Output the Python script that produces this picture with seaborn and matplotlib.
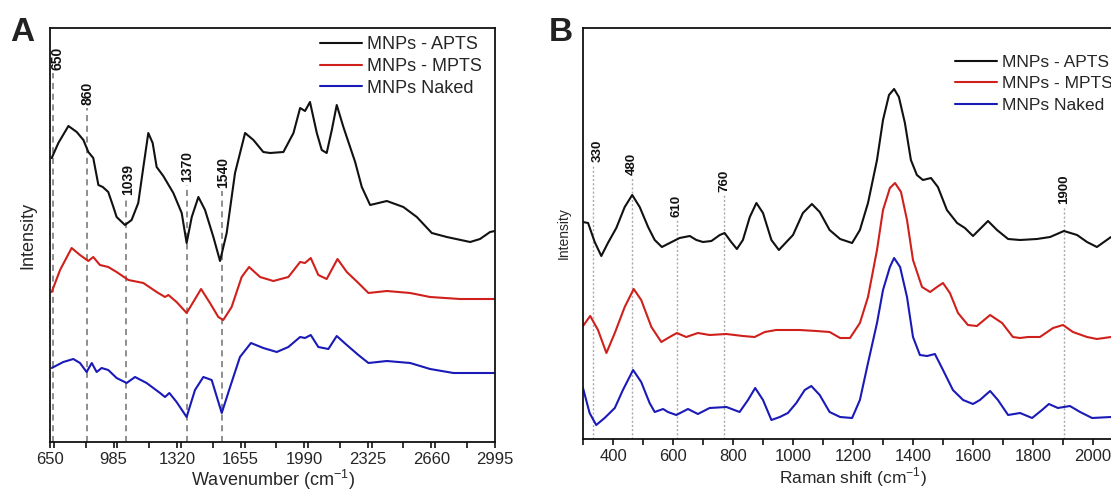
import numpy as np
import pandas as pd
import matplotlib
matplotlib.use("Agg")
import matplotlib.pyplot as plt
import seaborn as sns
from matplotlib.ticker import MultipleLocator, FixedLocator
from matplotlib.lines import Line2D

# ---------------- data ----------------
# Panel A: FTIR (wavenumber, intensity a.u.)
ftir_apts_x = [659, 694, 747, 791, 826, 852, 878, 905, 928, 957, 984, 1001, 1045, 1080, 1115,
               1142, 1168, 1191, 1212, 1247, 1300, 1344, 1370, 1397, 1432, 1467, 1511, 1546,
               1581, 1625, 1678, 1722, 1774, 1810, 1880, 1933, 1968, 1994, 2020, 2056, 2082,
               2108, 2135, 2161, 2196, 2258, 2293, 2337, 2425, 2512, 2583, 2662, 2741, 2864,
               2916, 2969, 2995]
ftir_apts_y = [284, 299, 316, 310, 302, 290, 284, 257, 255, 250, 235, 225, 217, 222, 239,
               275, 309, 299, 275, 266, 249, 229, 199, 225, 245, 232, 205, 181,
               209, 269, 309, 302, 290, 289, 290, 309, 334, 331, 340, 309, 292,
               289, 312, 337, 315, 280, 255, 237, 241, 235, 225, 209, 205, 200,
               203, 210, 211]

ftir_mpts_x = [659, 703, 764, 808, 852, 878, 913, 957, 1001, 1063, 1142, 1212, 1256, 1274,
               1317, 1370, 1405, 1446, 1493, 1537, 1563, 1607, 1660, 1699, 1757, 1827, 1906,
               1968, 1994, 2024, 2064, 2108, 2165, 2214, 2275, 2328, 2425, 2548, 2653, 2811, 2995]
ftir_mpts_y = [150, 172, 194, 187, 181, 185, 177, 175, 170, 162, 159, 150, 145, 147,
               140, 129, 140, 153, 139, 125, 122, 135, 165, 175, 165, 161, 165,
               180, 179, 184, 167, 163, 183, 170, 159, 149, 151, 149, 145, 143, 143]

ftir_naked_x = [659, 720, 773, 808, 843, 870, 896, 922, 957, 1001, 1054, 1098, 1159, 1230,
                1256, 1279, 1317, 1370, 1414, 1458, 1502, 1555, 1599, 1651, 1709, 1774, 1845,
                1906, 1968, 1994, 2024, 2064, 2117, 2161, 2214, 2275, 2328, 2425, 2548, 2653,
                2776, 2995]
ftir_naked_y = [74, 80, 83, 79, 70, 79, 70, 74, 72, 64, 59, 65, 59, 49,
                45, 49, 40, 25, 52, 65, 62, 29, 55, 85, 99, 94, 90,
                95, 105, 104, 107, 95, 93, 106, 97, 87, 79, 81, 79, 73,
                69, 69]

ftir_marks = [665, 845, 1050, 1372, 1556]
ftir_mark_labels = ["650", "860", "1039", "1370", "1540"]
ftir_label_x = [692, 845, 1060, 1375, 1560]
ftir_mark_tops = [369, 334, 244, 257, 251]

# Panel B: Raman (shift, intensity a.u.)
raman_apts_x = [300, 317, 339, 361, 383, 411, 439, 464, 489, 517, 539, 563, 589, 622, 656,
                678, 700, 728, 756, 772, 794, 813, 833, 856, 878, 900, 928, 953, 978, 1000,
                1033, 1063, 1089, 1122, 1157, 1197, 1223, 1250, 1280, 1300, 1320, 1337, 1353,
                1373, 1393, 1413, 1433, 1460, 1483, 1513, 1547, 1573, 1600, 1630, 1650, 1680,
                1717, 1757, 1813, 1857, 1903, 1947, 1980, 2013, 2060]
raman_apts_y = [217, 216, 197, 183, 196, 211, 232, 244, 232, 212, 199, 192, 196, 201, 203,
                199, 197, 198, 204, 206, 197, 190, 199, 222, 236, 226, 199, 189, 197, 204,
                226, 235, 227, 209, 200, 196, 209, 236, 279, 319, 344, 350, 342,
                316, 279, 264, 259, 261, 252, 229, 216, 211, 203, 212, 218, 209,
                200, 199, 200, 202, 208, 204, 197, 192, 202]

raman_mpts_x = [300, 324, 350, 378, 406, 439, 469, 494, 528, 561, 589, 613, 644, 683, 722,
                778, 833, 872, 906, 944, 1022, 1078, 1122, 1157, 1190, 1223, 1250, 1280, 1300,
                1323, 1340, 1360, 1380, 1400, 1430, 1457, 1480, 1500, 1523, 1550, 1583, 1613,
                1657, 1697, 1733, 1757, 1783, 1823, 1867, 1900, 1933, 1980, 2013, 2060]
raman_mpts_y = [113, 123, 109, 86, 106, 132, 150, 139, 112, 97, 102, 106, 102, 106, 104,
                105, 103, 102, 107, 109, 109, 108, 107, 101, 101, 116, 142, 189, 229,
                251, 256, 247, 219, 179, 152, 147, 152, 156, 146, 126, 114, 113,
                124, 116, 102, 101, 102, 102, 111, 114, 107, 102, 100, 102]

raman_naked_x = [300, 322, 344, 372, 406, 433, 467, 494, 522, 539, 567, 583, 611, 650, 683,
                 722, 778, 822, 850, 874, 900, 928, 956, 983, 1011, 1039, 1061, 1089, 1122,
                 1157, 1197, 1223, 1250, 1280, 1300, 1323, 1337, 1357, 1380, 1400, 1423, 1447,
                 1473, 1500, 1533, 1567, 1600, 1623, 1657, 1683, 1717, 1757, 1797, 1830, 1853,
                 1883, 1923, 1957, 1997, 2060]
raman_naked_y = [51, 26, 14, 21, 31, 49, 69, 57, 36, 27, 30, 27, 24, 30, 25,
                 31, 32, 27, 39, 51, 39, 19, 22, 26, 36, 49, 53, 44, 27,
                 22, 21, 39, 76, 116, 149, 172, 181, 172, 142, 102, 84, 83,
                 85, 69, 49, 39, 35, 39, 48, 39, 24, 26, 21, 29, 35,
                 31, 33, 27, 21, 22]

raman_marks = [333, 463, 613, 770, 1903]
raman_mark_labels = ["330", "480", "610", "760", "1900"]
raman_label_x = [350, 463, 613, 770, 1903]
raman_mark_tops = [274, 261, 219, 244, 232]

samples = ["MNPs - APTS", "MNPs - MPTS", "MNPs Naked"]
colors = {"MNPs - APTS": "#111111", "MNPs - MPTS": "#d0201c", "MNPs Naked": "#1a1ab8"}


def long_frame(xs, ys):
    parts = []
    for name, x, y in zip(samples, xs, ys):
        parts.append(pd.DataFrame({"x": x, "y": y, "sample": name}))
    return pd.concat(parts, ignore_index=True)


df_a = long_frame([ftir_apts_x, ftir_mpts_x, ftir_naked_x], [ftir_apts_y, ftir_mpts_y, ftir_naked_y])
df_b = long_frame([raman_apts_x, raman_mpts_x, raman_naked_x], [raman_apts_y, raman_mpts_y, raman_naked_y])

# ---------------- style ----------------
sns.set_theme(style="ticks")
plt.rcParams["font.family"] = ["Liberation Sans", "DejaVu Sans"]
plt.rcParams["mathtext.fontset"] = "custom"
plt.rcParams["mathtext.rm"] = "Liberation Sans"
plt.rcParams["axes.edgecolor"] = "#111111"
plt.rcParams["axes.linewidth"] = 1.3

fig = plt.figure(figsize=(11.11, 4.91), dpi=100)
ax_a = fig.add_axes([50 / 1111, 49 / 491, 445 / 1111, 414 / 491])
ax_b = fig.add_axes([583 / 1111, 52 / 491, 540 / 1111, 411 / 491])

# ---------------- panel A ----------------
sns.lineplot(data=df_a, x="x", y="y", hue="sample", palette=colors, estimator=None,
             sort=False, linewidth=1.5, ax=ax_a, legend=False)
for xm, xl, lab, top in zip(ftir_marks, ftir_label_x, ftir_mark_labels, ftir_mark_tops):
    ax_a.vlines(xm, 0, top, colors="#707070", linestyles=(0, (4, 3)), linewidth=1.1, zorder=1)
    ax_a.text(xl, top + 3, lab, rotation=90, ha="center", va="bottom",
              fontsize=10, fontweight="bold", color="#111111")
ax_a.set_xlim(650, 2995)
ax_a.set_ylim(0, 414)
ax_a.xaxis.set_major_locator(FixedLocator([650, 985, 1320, 1655, 1990, 2325, 2660, 2995]))
ax_a.xaxis.set_minor_locator(MultipleLocator(167.5))
ax_a.set_yticks([])
ax_a.tick_params(axis="x", which="both", direction="out", length=4, width=1.2,
                 labelsize=12, pad=3, color="#111111")
ax_a.set_xlabel("Wavenumber (cm$^{-1}$)", fontsize=13, labelpad=1)
ax_a.set_ylabel("Intensity", fontsize=13, labelpad=10)

# ---------------- panel B ----------------
sns.lineplot(data=df_b, x="x", y="y", hue="sample", palette=colors, estimator=None,
             sort=False, linewidth=1.5, ax=ax_b, legend=False)
for xm, xl, lab, top in zip(raman_marks, raman_label_x, raman_mark_labels, raman_mark_tops):
    ax_b.vlines(xm, 0, top, colors="#aaaaaa", linestyles=(0, (1.5, 1.5)), linewidth=1.0, zorder=1)
    ax_b.text(xl, top + 3, lab, rotation=90, ha="center", va="bottom",
              fontsize=9.5, fontweight="bold", color="#111111")
ax_b.set_xlim(300, 2100)
ax_b.set_ylim(0, 411)
ax_b.xaxis.set_major_locator(MultipleLocator(200))
ax_b.xaxis.set_minor_locator(MultipleLocator(100))
ax_b.set_yticks([])
ax_b.tick_params(axis="x", which="both", direction="out", length=4, width=1.2,
                 labelsize=12, pad=3, color="#111111")
ax_b.set_xlabel("Raman shift (cm$^{-1}$)", fontsize=12.5, labelpad=1)
ax_b.set_ylabel("Intensity", fontsize=10, labelpad=9)

# ---------------- legends ----------------
handles = [Line2D([], [], color=colors[s], linewidth=1.5) for s in samples]
ax_a.legend(handles, samples, loc="upper left", bbox_to_anchor=(0.607, 0.98), frameon=False,
            fontsize=13, handlelength=2.3, handletextpad=0.3, labelspacing=0.26,
            borderpad=0, borderaxespad=0)
ax_b.legend(handles, samples, loc="upper left", bbox_to_anchor=(0.689, 0.935), frameon=False,
            fontsize=12.5, handlelength=2.4, handletextpad=0.3, labelspacing=0.36,
            borderpad=0, borderaxespad=0)

# panel letters
fig.text(10 / 1111, 1 - 41 / 491, "A", fontsize=24, fontweight="bold", color="#222222")
fig.text(549 / 1111, 1 - 41 / 491, "B", fontsize=24, fontweight="bold", color="#222222")

fig.savefig("out.png", dpi=100)
